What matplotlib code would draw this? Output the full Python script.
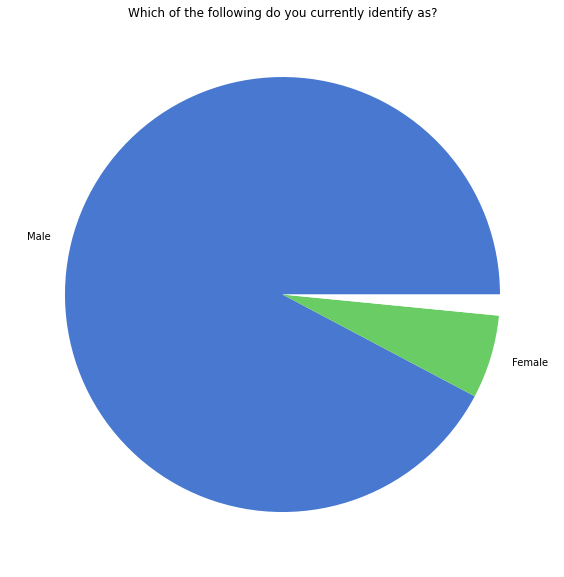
import matplotlib
matplotlib.use("Agg")
import matplotlib.pyplot as plt

# shares (percent)
labels = ['Male', 'Female', '']
shares = [92.25, 6.2, 1.55]
colours = ['#4878d0', '#6acc64', 'white']

fig = plt.figure(figsize=(564 / 72, 577 / 72), dpi=72)
ax = fig.add_axes([10.6 / 564, 10.6 / 577, 543.75 / 564, 543.75 / 577])

ax.pie(shares, labels=labels, colors=colours, textprops={'fontsize': 10})
ax.set_title('Which of the following do you currently identify as?', fontsize=12)

fig.savefig('out.png', dpi=72)
